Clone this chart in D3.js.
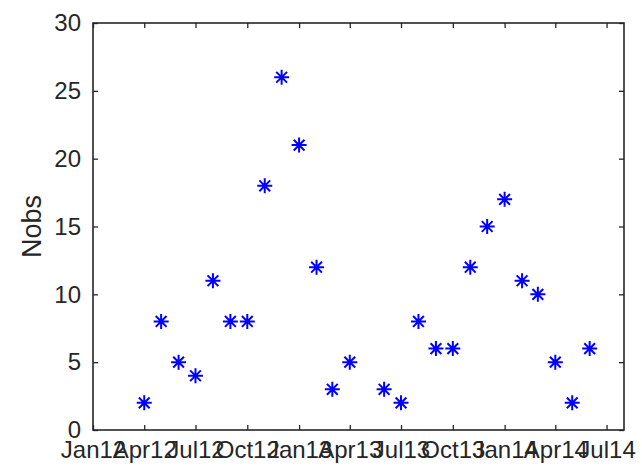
<!DOCTYPE html>
<html>
<head>
<meta charset="utf-8">
<script src="https://cdn.jsdelivr.net/npm/d3@7"></script>
<style>
  html, body { margin: 0; padding: 0; background: #fff; }
  svg { display: block; }
  text { font-family: "Liberation Sans", Arial, Helvetica, sans-serif; fill: #262626; }
</style>
</head>
<body>
<svg id="chart" width="642" height="468"></svg>
<script>
// Monthly observation counts (first of each month); null = no observation
const months = [
  "2012-04-01","2012-05-01","2012-06-01","2012-07-01","2012-08-01","2012-09-01",
  "2012-10-01","2012-11-01","2012-12-01","2013-01-01","2013-02-01","2013-03-01",
  "2013-04-01","2013-05-01","2013-06-01","2013-07-01","2013-08-01","2013-09-01",
  "2013-10-01","2013-11-01","2013-12-01","2014-01-01","2014-02-01","2014-03-01",
  "2014-04-01","2014-05-01","2014-06-01"
];
const nobs = [
  2, 8, 5, 4, 11, 8,
  8, 18, 26, 21, 12, 3,
  5, null, 3, 2, 8, 6,
  6, 12, 15, 17, 11, 10,
  5, 2, 6
];
const xTickDates = [
  "2012-01-01","2012-04-01","2012-07-01","2012-10-01","2013-01-01","2013-04-01",
  "2013-07-01","2013-10-01","2014-01-01","2014-04-01","2014-07-01"
];
const xTickLabels = ["Jan12","Apr12","Jul12","Oct12","Jan13","Apr13","Jul13","Oct13","Jan14","Apr14","Jul14"];
const yTicks = [0, 5, 10, 15, 20, 25, 30];
const yLabel = "Nobs";

const parse = d3.utcParse("%Y-%m-%d");
const points = months.map((m, i) => ({ date: parse(m), value: nobs[i] }))
  .filter(d => d.value !== null);

const svg = d3.select("#chart");
const box = { left: 93, right: 624, top: 23, bottom: 430 };

const x = d3.scaleUtc()
  .domain([parse("2012-01-01"), parse("2014-08-01")])
  .range([box.left, box.right]);
const y = d3.scaleLinear().domain([0, 30]).range([box.bottom, box.top]);

const axisColor = "#262626";
const tickLen = 5;
const fontSize = "24px";
const xTicks = xTickDates.map(parse);
const labelFor = new Map(xTicks.map((d, i) => [+d, xTickLabels[i]]));

// Bottom axis (labels), ticks pointing inward
const gx = svg.append("g").attr("transform", `translate(0,${box.bottom})`)
  .call(d3.axisBottom(x).tickValues(xTicks).tickFormat(d => labelFor.get(+d))
    .tickSizeInner(-tickLen).tickSizeOuter(0).tickPadding(11));
// Top axis mirror ticks
const gxt = svg.append("g").attr("transform", `translate(0,${box.top})`)
  .call(d3.axisTop(x).tickValues(xTicks).tickFormat("")
    .tickSizeInner(-tickLen).tickSizeOuter(0));
// Left axis (labels)
const gy = svg.append("g").attr("transform", `translate(${box.left},0)`)
  .call(d3.axisLeft(y).tickValues(yTicks).tickFormat(d3.format("d"))
    .tickSizeInner(-tickLen).tickSizeOuter(0).tickPadding(12));
// Right axis mirror ticks
const gyr = svg.append("g").attr("transform", `translate(${box.right},0)`)
  .call(d3.axisRight(y).tickValues(yTicks).tickFormat("")
    .tickSizeInner(-tickLen).tickSizeOuter(0));

[gx, gxt, gy, gyr].forEach(g => {
  g.select(".domain").remove();
  g.selectAll(".tick line").attr("stroke", axisColor).attr("stroke-width", 1.3);
  g.selectAll(".tick text")
    .style("font-family", '"Liberation Sans", Arial, Helvetica, sans-serif')
    .style("font-size", fontSize).attr("fill", axisColor);
});

// Frame around the plot area
svg.append("rect")
  .attr("x", box.left).attr("y", box.top)
  .attr("width", box.right - box.left).attr("height", box.bottom - box.top)
  .attr("fill", "none").attr("stroke", axisColor).attr("stroke-width", 1.6);

// Y axis title
svg.append("text")
  .attr("transform", `translate(41,${(box.top + box.bottom) / 2}) rotate(-90)`)
  .attr("text-anchor", "middle")
  .style("font-size", "27px")
  .text(yLabel);

// Asterisk markers
const r = 7.5;
const k = r * 0.72;
const star = `M${-r},0H${r}M0,${-r}V${r}` +
  `M${-k},${-k}L${k},${k}` +
  `M${-k},${k}L${k},${-k}`;
svg.append("g").selectAll("path")
  .data(points)
  .join("path")
  .attr("transform", d => `translate(${x(d.date)},${y(d.value)})`)
  .attr("d", star)
  .attr("stroke", "#0000ff")
  .attr("stroke-width", 2)
  .attr("fill", "none");
</script>
</body>
</html>
